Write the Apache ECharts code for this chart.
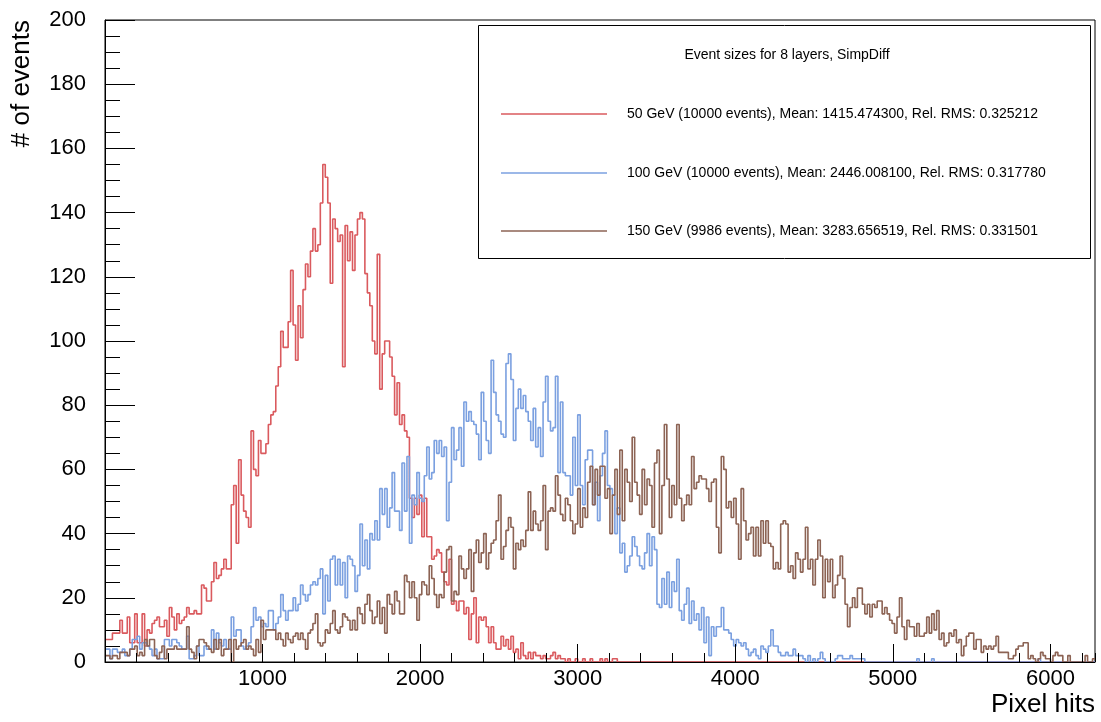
<!DOCTYPE html>
<html><head><meta charset="utf-8">
<script src="https://cdn.jsdelivr.net/npm/echarts@6/dist/echarts.min.js"></script>
<style>html,body{margin:0;padding:0;background:#fff}#c{width:1101px;height:722px}</style>
</head><body><div id="c"></div>
<script>
// ---- axis / binning ----
const X_MIN = 0, X_MAX = 6283, N_BINS = 400;
const Y_MIN = 0, Y_MAX = 200;
const xAxisTitle = 'Pixel hits';
const yAxisTitle = '# of events';
const legendTitle = 'Event sizes for 8 layers, SimpDiff';
const seriesNames = [
  '50 GeV (10000 events), Mean: 1415.474300, Rel. RMS: 0.325212',
  '100 GeV (10000 events), Mean: 2446.008100, Rel. RMS: 0.317780',
  '150 GeV (9986 events), Mean: 3283.656519, Rel. RMS: 0.331501'
];

// ---- bin contents (400 bins each) ----
const red50 = [
7,7,7,9,9,9,13,9,9,14, 6,6,15,6,6,15,5,10,9,12, 13,14,11,11,13,8,17,14,10,15,
12,13,14,17,15,15,16,15,15,24, 23,19,19,25,31,26,27,29,32,29, 29,49,55,37,63,52,47,45,42,72,
60,58,69,65,65,68,74,77,78,86, 92,103,98,98,106,122,105,94,111,101, 116,124,120,128,135,128,130,143,155,151,
143,118,138,135,131,133,92,136,125,134, 122,133,138,140,138,121,115,111,100,96, 127,85,96,100,100,95,89,77,87,74,
77,72,70,51,45,51,46,52,39,51, 39,39,32,33,35,34,28,25,24,32, 18,19,16,19,19,15,17,7,15,20,
6,14,13,14,11,6,11,6,4,4, 8,5,7,4,8,3,4,1,6,2, 1,3,1,3,2,2,1,2,1,1,
2,3,1,2,1,1,0,1,0,0, 1,0,0,1,0,0,1,0,0,0, 1,0,1,0,0,1,1,0,0,0,
0,0,0,0,0,0,0,0,0,0, 0,0,0,0,0,0,0,0,0,0, 0,0,0,0,0,0,0,0,0,0,
0,0,0,0,0,0,0,0,0,0, 0,0,0,0,0,0,0,0,0,0, 0,0,0,0,0,0,0,0,0,0,
0,0,0,0,0,0,0,0,0,0, 0,0,0,0,0,0,0,0,0,0, 0,0,0,0,0,0,0,0,0,0,
0,0,0,0,0,0,0,0,0,0, 0,0,0,0,0,0,0,0,0,0, 0,0,0,0,0,0,0,0,0,0,
0,0,0,0,0,0,0,0,0,0, 0,0,0,0,0,0,0,0,0,0, 0,0,0,0,0,0,0,0,0,0,
0,0,0,0,0,0,0,0,0,0, 0,0,0,0,0,0,0,0,0,0, 0,0,0,0,0,0,0,0,0,0,
0,0,0,0,0,0,0,0,0,0
];
const blue100 = [
4,4,1,4,4,3,3,4,2,2, 4,7,7,8,4,6,6,5,4,2, 4,1,1,1,7,7,5,7,7,6,
5,4,4,8,1,1,2,5,2,2, 5,4,4,10,4,9,6,5,7,4, 4,14,8,10,10,5,4,5,6,11,
17,13,14,11,12,11,16,16,10,12, 14,21,16,13,16,16,20,16,18,24, 21,19,21,24,25,24,26,29,15,27,
19,32,33,24,32,24,31,20,33,32, 30,22,27,43,30,38,29,40,38,44, 38,54,46,54,42,48,59,47,47,41,
62,47,64,37,52,49,59,51,50,58, 67,57,59,69,65,69,64,67,44,56, 73,63,66,73,61,81,75,78,75,74,
71,63,84,75,69,65,94,84,77,75, 71,70,93,96,88,69,79,85,79,83, 78,75,69,79,67,73,64,81,89,75,
72,73,89,59,81,59,58,58,52,70, 55,77,55,49,63,66,66,49,56,44, 58,65,72,55,54,52,40,48,34,37,
28,30,33,39,36,33,30,29,34,40, 30,39,35,18,17,26,18,28,17,25, 22,32,16,13,18,23,12,19,13,15,
10,17,6,14,2,11,8,11,11,17, 10,10,9,7,5,7,6,5,6,4, 2,3,4,2,1,5,4,3,5,10,
5,5,3,2,2,3,2,2,4,2, 2,2,1,0,2,0,1,0,1,3, 1,0,0,0,0,1,2,2,1,1,
1,2,1,1,1,1,1,0,0,0, 0,0,0,0,0,0,0,0,0,0, 0,0,0,0,0,0,0,0,1,0,
0,0,0,0,1,0,0,0,0,0, 0,0,0,0,0,0,0,0,0,0, 0,0,0,0,0,0,0,0,0,0,
0,0,0,0,0,0,0,0,0,0, 0,0,0,0,0,0,0,1,0,0, 0,0,0,0,0,0,0,0,0,0,
0,0,0,0,0,0,0,0,0,0
];
const brown150 = [
2,2,1,2,2,1,3,3,3,2, 4,4,5,2,3,2,7,5,7,7, 2,1,3,5,1,4,4,4,5,4,
4,4,4,11,4,3,1,5,7,7, 6,5,4,3,7,4,7,2,4,4, 7,0,7,4,5,6,7,4,5,4,
2,7,3,13,7,10,10,10,10,7, 9,7,5,9,7,6,8,9,7,9, 7,4,9,10,12,15,6,5,6,10,
9,12,16,10,9,11,15,14,13,10, 13,10,17,15,12,18,21,16,12,14, 19,12,17,9,21,18,15,22,19,15,
15,27,25,20,25,20,13,21,25,24, 21,30,26,21,17,21,20,28,35,36, 19,22,21,33,29,26,29,35,22,34,
38,31,34,40,29,34,37,38,44,52, 32,36,41,45,42,29,37,35,38,36, 41,53,41,47,43,41,44,55,35,47,
48,47,58,52,46,44,51,49,44,40, 43,54,42,48,45,56,61,49,60,52, 61,61,51,54,40,52,60,46,66,44,
60,56,50,70,56,52,46,60,49,57, 55,42,62,66,40,55,74,57,45,55, 49,74,51,44,49,52,49,64,54,56,
58,57,57,54,50,56,57,42,34,64, 60,48,50,45,51,43,32,54,44,38, 40,42,33,42,33,44,37,44,37,36,
29,31,29,43,44,43,28,30,26,34, 32,28,32,42,29,32,24,32,38,33, 20,32,25,32,20,24,27,33,26,18,
11,17,20,17,23,23,18,15,18,14, 18,17,19,19,15,17,15,13,12,9, 14,20,11,7,13,11,11,8,12,8,
8,9,14,9,15,10,16,7,9,5, 6,9,8,10,6,7,2,5,8,9, 9,4,7,7,3,5,4,5,4,5,
8,3,3,3,3,1,1,2,4,5, 5,6,6,1,2,1,0,1,3,2, 1,1,0,2,3,2,2,0,0,2,
0,0,0,0,0,0,2,0,0,1
];

const COLORS = ['#da5a5e', '#7ba0e0', '#8c6354'];
const FONT = '"Liberation Sans", Arial, sans-serif';

function toSteps(arr) {
  const w = (X_MAX - X_MIN) / N_BINS;
  const pts = arr.map((v, i) => [X_MIN + i * w, v]);
  pts.push([X_MAX, arr[arr.length - 1]]);
  return pts;
}

const chart = echarts.init(document.getElementById('c'), null, {renderer: 'canvas'});
const axisBlack = {color: '#000', width: 1};
const allData = [red50, blue100, brown150];

chart.setOption({
  animation: false,
  backgroundColor: '#fff',
  grid: {left: 105, right: 6, top: 20, bottom: 60, show: true, borderColor: '#000', borderWidth: 1, backgroundColor: 'transparent'},
  xAxis: [
    {
      type: 'value', min: X_MIN, max: X_MAX, interval: 1000, position: 'bottom', z: 5,
      axisLine: {show: true, lineStyle: axisBlack},
      axisTick: {show: true, inside: true, length: 18, lineStyle: axisBlack},
      minorTick: {show: false},
      splitLine: {show: false},
      axisLabel: {color: '#000', fontSize: 22, fontFamily: FONT, margin: 6, showMaxLabel: false,
        formatter: v => (v === 0 ? '' : String(v))}
    },
    {
      type: 'value', min: X_MIN, max: X_MAX, interval: 200, position: 'bottom', z: 5,
      axisLine: {show: false},
      axisTick: {show: true, inside: true, length: 9, lineStyle: axisBlack},
      splitLine: {show: false},
      axisLabel: {show: false}
    }
  ],
  yAxis: {
    type: 'value', min: Y_MIN, max: Y_MAX, interval: 20, z: 5,
    axisLine: {show: true, lineStyle: axisBlack},
    axisTick: {show: true, inside: true, length: 30, lineStyle: axisBlack},
    minorTick: {show: true, splitNumber: 4, length: 15, lineStyle: axisBlack},
    splitLine: {show: false},
    axisLabel: {color: '#000', fontSize: 22, fontFamily: FONT, margin: 19}
  },
  series: allData.map((arr, k) => ({
    type: 'line', name: seriesNames[k], xAxisIndex: 0, step: 'end',
    data: toSteps(arr), symbol: 'none', silent: true,
    lineStyle: {color: COLORS[k], width: 1.6}, z: 2
  })),
  graphic: [
    {type: 'text', x: 22, y: 20, rotation: Math.PI / 2,
      style: {text: yAxisTitle, font: '26px ' + FONT, fill: '#000', align: 'right', verticalAlign: 'middle'}},
    {type: 'text', x: 1095, y: 705,
      style: {text: xAxisTitle, font: '26px ' + FONT, fill: '#000', align: 'right', verticalAlign: 'middle'}},
    {type: 'rect', shape: {x: 478.5, y: 25.5, width: 612, height: 233}, z: 10,
      style: {fill: '#fff', stroke: '#000', lineWidth: 1}},
    {type: 'text', x: 787, y: 55, z: 11,
      style: {text: legendTitle, font: '14px ' + FONT, fill: '#000', align: 'center', verticalAlign: 'middle'}},
    ...[114, 173, 231].flatMap((yy, k) => [
      {type: 'line', z: 11, shape: {x1: 501, y1: yy, x2: 607, y2: yy}, style: {stroke: COLORS[k], lineWidth: 1.6}},
      {type: 'text', x: 627, y: yy, z: 11,
        style: {text: seriesNames[k], font: '14px ' + FONT, fill: '#000', align: 'left', verticalAlign: 'middle'}}
    ])
  ]
});
</script>
</body></html>
